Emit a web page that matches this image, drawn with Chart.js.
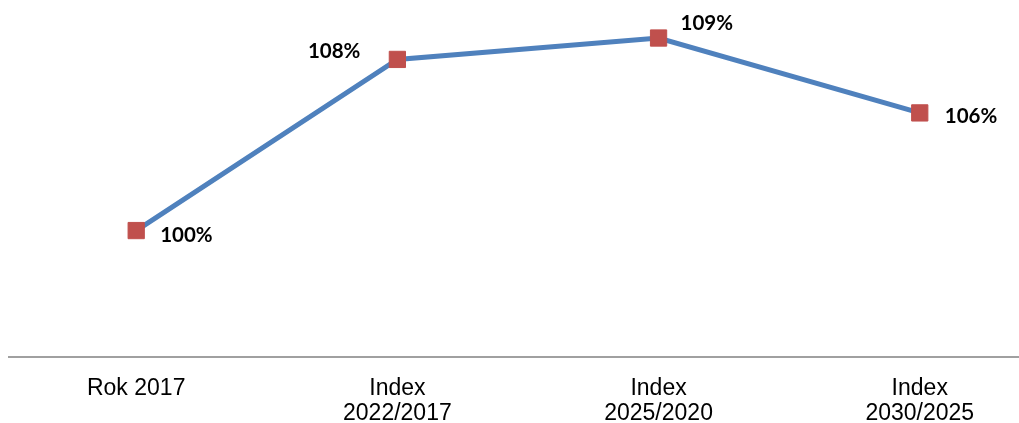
<!DOCTYPE html>
<html>
<head>
<meta charset="utf-8">
<script src="https://cdn.jsdelivr.net/npm/chart.js@4/dist/chart.umd.min.js"></script>
<style>
html,body{margin:0;padding:0;background:#fff;}
#wrap{width:1019px;height:423px;position:relative;}
</style>
</head>
<body>
<div id="wrap"><canvas id="c"></canvas></div>
<script>
const categories = [["Rok 2017"], ["Index", "2022/2017"], ["Index", "2025/2020"], ["Index", "2030/2025"]];
const values = [100, 108, 109, 105.5];
const valueLabels = ["100%", "108%", "109%", "106%"];

// label offsets (style): dx, dy relative to point, alignment
const labelPlacement = [
  {dx: 24, dy: 5, align: 'left'},
  {dx: -37, dy: -8, align: 'right'},
  {dx: 22, dy: -15, align: 'left'},
  {dx: 25, dy: 3, align: 'left'}
];

const labelPlugin = {
  id: 'pointLabels',
  afterDatasetsDraw(chart) {
    const ctx = chart.ctx;
    const meta = chart.getDatasetMeta(0);
    ctx.save();
    ctx.font = 'bold 20.5px Lato, "Open Sans", sans-serif';
    ctx.fillStyle = '#000';
    ctx.textBaseline = 'middle';
    meta.data.forEach((pt, i) => {
      const p = labelPlacement[i];
      ctx.textAlign = p.align;
      ctx.fillText(valueLabels[i], pt.x + p.dx, pt.y + p.dy);
    });
    ctx.restore();
  }
};

new Chart(document.getElementById('c'), {
  type: 'line',
  data: {
    datasets: [{
      data: values.map((v, i) => ({x: i, y: v})),
      borderColor: '#4F81BD',
      borderWidth: 5,
      pointStyle: 'rect',
      pointRadius: 11.5,
      pointBackgroundColor: '#C0504D',
      pointBorderColor: '#C0504D',
      pointBorderWidth: 1,
      tension: 0,
      fill: false,
      clip: false
    }]
  },
  options: {
    responsive: true,
    maintainAspectRatio: false,
    animation: false,
    layout: {autoPadding: false, padding: {left: 9, right: 0, top: 10, bottom: 0}},
    plugins: {legend: {display: false}, tooltip: {enabled: false}},
    scales: {
      x: {
        type: 'linear',
        min: -0.487,
        max: 3.38,
        afterBuildTicks(axis) {
          axis.ticks = categories.map((c, i) => ({value: i}));
        },
        afterFit(axis) {
          axis.paddingLeft = 0;
          axis.paddingRight = 0;
          axis.height = 66;
        },
        grid: {display: false, drawTicks: false},
        border: {display: true, color: '#A0A0A0', width: 2},
        ticks: {
          autoSkip: false,
          maxRotation: 0,
          padding: 20,
          color: '#000',
          font: {family: '"Liberation Sans", Arial, sans-serif', size: 23, lineHeight: 1.05},
          callback: (v) => categories[v]
        }
      },
      y: {
        display: false,
        min: 94.09,
        max: 110.31
      }
    }
  },
  plugins: [labelPlugin]
});
</script>
</body>
</html>
